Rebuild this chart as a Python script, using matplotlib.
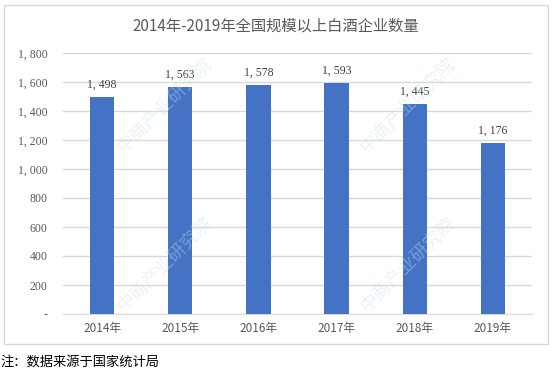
import matplotlib
matplotlib.use("Agg")
import matplotlib.pyplot as plt
from matplotlib.patches import Rectangle
from matplotlib.ticker import FuncFormatter

plt.rcParams['font.family'] = ['Noto Sans CJK SC', 'DejaVu Sans']

years = ["2014年", "2015年", "2016年", "2017年", "2018年", "2019年"]
counts = [1498, 1563, 1578, 1593, 1445, 1176]
yticks = [0, 200, 400, 600, 800, 1000, 1200, 1400, 1600, 1800]


def fmt(v, pos=None):
    v = int(round(v))
    if v == 0:
        return "-"
    if v >= 1000:
        return "{}, {:03d}".format(v // 1000, v % 1000)
    return str(v)


fig = plt.figure(figsize=(5.52, 3.78), dpi=100)
fig.patch.set_facecolor("white")

# outer frame
fig.patches.append(Rectangle((4 / 552, 1 - 344 / 378), 544 / 552, 339 / 378,
                             transform=fig.transFigure, fill=False,
                             edgecolor="#d9d9d9", linewidth=1))

ax = fig.add_axes([63 / 552, 1 - 314 / 378, 469 / 552, 261 / 378])
x = range(len(years))
ax.bar(x, counts, width=0.31, color="#4472c4", zorder=3)
for xi, v in zip(x, counts):
    ax.text(xi, v + 45, fmt(v), ha="center", va="bottom", fontsize=8.5,
            color="#404040", family=["Liberation Serif", "DejaVu Serif"])

ax.set_xlim(-0.5, len(years) - 0.5)
ax.set_ylim(0, 1800)
ax.set_yticks(yticks)
ax.yaxis.set_major_formatter(FuncFormatter(fmt))
ax.set_xticks(list(x))
ax.set_xticklabels(years)
ax.tick_params(axis="both", length=0, labelsize=8.5, colors="#595959")
ax.tick_params(axis="y", pad=11)
ax.tick_params(axis="x", pad=6)
for lab in ax.get_yticklabels():
    lab.set_family(["Liberation Serif", "DejaVu Serif"])
ax.grid(axis="y", color="#d9d9d9", linewidth=1, zorder=0)
for s in ["top", "right", "left"]:
    ax.spines[s].set_visible(False)
ax.spines["bottom"].set_color("#d9d9d9")
ax.set_facecolor("none")

fig.text(0.5, 1 - 26 / 378, "2014年-2019年全国规模以上白酒企业数量",
         ha="center", va="center", fontsize=11, color="#595959")
fig.text(0.0, 1 - 362 / 378, "注：数据来源于国家统计局",
         ha="left", va="center", fontsize=9.5, color="#000000")

# faint watermark
for wx, wy in [(0.30, 0.72), (0.74, 0.72), (0.30, 0.30), (0.74, 0.30)]:
    fig.text(wx, wy, "中商产业研究院", rotation=45, ha="center", va="center",
             fontsize=13, color="#c9dff0", alpha=0.4, zorder=0)

fig.savefig("out.png", dpi=100)
